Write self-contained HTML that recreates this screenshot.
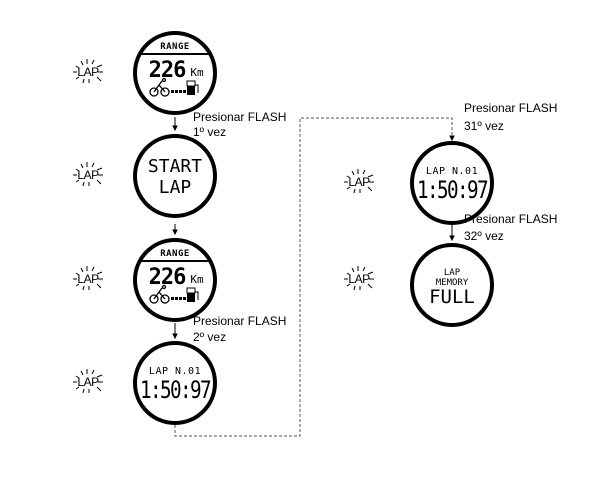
<!DOCTYPE html>
<html><head><meta charset="utf-8"><style>
body{margin:0;background:#fff}
svg{display:block}
text{font-family:"Liberation Sans",sans-serif}
.lcd{font-family:"DejaVu Sans Mono","Liberation Mono",monospace}
</style></head><body>
<svg width="605" height="492" viewBox="0 0 605 492" xmlns="http://www.w3.org/2000/svg">
<defs>
<g id="lap">
  <text x="0" y="5" font-size="12" text-anchor="middle" fill="#000" letter-spacing="-0.5">LAP</text>
  <g stroke="#000" stroke-width="1" fill="none">
    <line x1="-7" y1="-10" x2="-5" y2="-6"/>
    <line x1="-1" y1="-12" x2="-1" y2="-7"/>
    <line x1="6" y1="-11" x2="4" y2="-7"/>
    <line x1="-12" y1="-5" x2="-9" y2="-3"/>
    <line x1="-15" y1="1" x2="-11" y2="1"/>
    <line x1="-12" y1="8" x2="-9" y2="6"/>
    <line x1="-5" y1="12" x2="-4" y2="8"/>
    <line x1="1" y1="12" x2="1" y2="8"/>
    <line x1="9" y1="-4" x2="14" y2="-6"/>
    <line x1="10" y1="1" x2="15" y2="1"/>
    <line x1="9" y1="6" x2="13" y2="10"/>
  </g>
</g>
<g id="range">
  <circle cx="0" cy="0" r="40" fill="#fff" stroke="#000" stroke-width="4"/>
  <line x1="-36" y1="-19" x2="36" y2="-19" stroke="#000" stroke-width="2"/>
  <text x="0" y="-24" font-size="9" text-anchor="middle" class="lcd" font-weight="bold" letter-spacing="0.5">RANGE</text>
  <text x="-8" y="4" font-size="22" text-anchor="middle" class="lcd" font-weight="bold" letter-spacing="-1">226</text>
  <text x="22" y="3" font-size="11" text-anchor="middle" class="lcd">Km</text>
  <g stroke="#000" stroke-width="1.3" fill="none">
    <circle cx="-21" cy="19" r="4"/>
    <circle cx="-10" cy="19" r="4"/>
    <path d="M-21 19 L-16 12 L-10 19 M-16 12 L-13 8"/>
    <circle cx="-11" cy="7" r="1.5"/>
  </g>
  <g fill="#000">
    <rect x="-4" y="17" width="3" height="3"/><rect x="0" y="17" width="3" height="3"/><rect x="4" y="17" width="3" height="3"/><rect x="8" y="17" width="3" height="3"/>
    <rect x="12" y="9" width="8" height="13"/>
  </g>
  <rect x="12" y="8" width="8" height="5" fill="#fff" stroke="#000" stroke-width="1"/>
  <path d="M20 12 h3 v8" stroke="#000" fill="none" stroke-width="1"/>
</g>
<g id="lapn">
  <circle cx="0" cy="0" r="40" fill="#fff" stroke="#000" stroke-width="4"/>
  <text x="0" y="-9" font-size="10" text-anchor="middle" class="lcd" letter-spacing="0.5">LAP N.01</text>
  <text x="0" y="15" font-size="24" text-anchor="middle" class="lcd" letter-spacing="-2" textLength="70" lengthAdjust="spacingAndGlyphs">1:50:97</text>
</g>
</defs>

<!-- left column -->
<use href="#lap" x="88" y="71"/>
<use href="#range" x="175" y="73"/>
<use href="#lap" x="88" y="174"/>
<circle cx="175" cy="176" r="40" fill="#fff" stroke="#000" stroke-width="4"/>
<text x="175" y="172" font-size="18" text-anchor="middle" class="lcd">START</text>
<text x="175" y="193" font-size="18" text-anchor="middle" class="lcd">LAP</text>
<use href="#lap" x="88" y="278"/>
<use href="#range" x="175" y="280"/>
<use href="#lap" x="88" y="381"/>
<use href="#lapn" x="175" y="383"/>

<!-- right column -->
<use href="#lap" x="359" y="181"/>
<use href="#lapn" x="452" y="183"/>
<use href="#lap" x="359" y="278"/>
<circle cx="452" cy="285" r="40" fill="#fff" stroke="#000" stroke-width="4"/>
<text x="452" y="275" font-size="9" text-anchor="middle" class="lcd">LAP</text>
<text x="452" y="285" font-size="9" text-anchor="middle" class="lcd">MEMORY</text>
<text x="452" y="303" font-size="19" text-anchor="middle" class="lcd">FULL</text>

<!-- arrows -->
<g stroke="#000" stroke-width="1" fill="#000">
  <line x1="175" y1="117" x2="175" y2="128"/><path d="M173 126 L177 126 L175 130Z"/>
  <line x1="175" y1="224" x2="175" y2="232"/><path d="M173 230 L177 230 L175 234Z"/>
  <line x1="175" y1="323" x2="175" y2="336"/><path d="M173 334 L177 334 L175 338Z"/>
  <line x1="452" y1="225" x2="452" y2="238"/><path d="M450 236 L454 236 L452 240Z"/>
  <path d="M450 136 L454 136 L452 140Z"/>
</g>
<path d="M175 425 V436 H300 V118 H452 V136" fill="none" stroke="#555" stroke-width="1" stroke-dasharray="3,2"/>

<!-- labels -->
<g font-size="12" fill="#000">
  <text x="193" y="121">Presionar FLASH</text>
  <text x="193" y="136">1º vez</text>
  <text x="193" y="325">Presionar FLASH</text>
  <text x="193" y="341">2º vez</text>
  <text x="464" y="112">Presionar FLASH</text>
  <text x="464" y="130">31º vez</text>
  <text x="464" y="223">Presionar FLASH</text>
  <text x="464" y="240">32º vez</text>
</g>
</svg>
</body></html>
